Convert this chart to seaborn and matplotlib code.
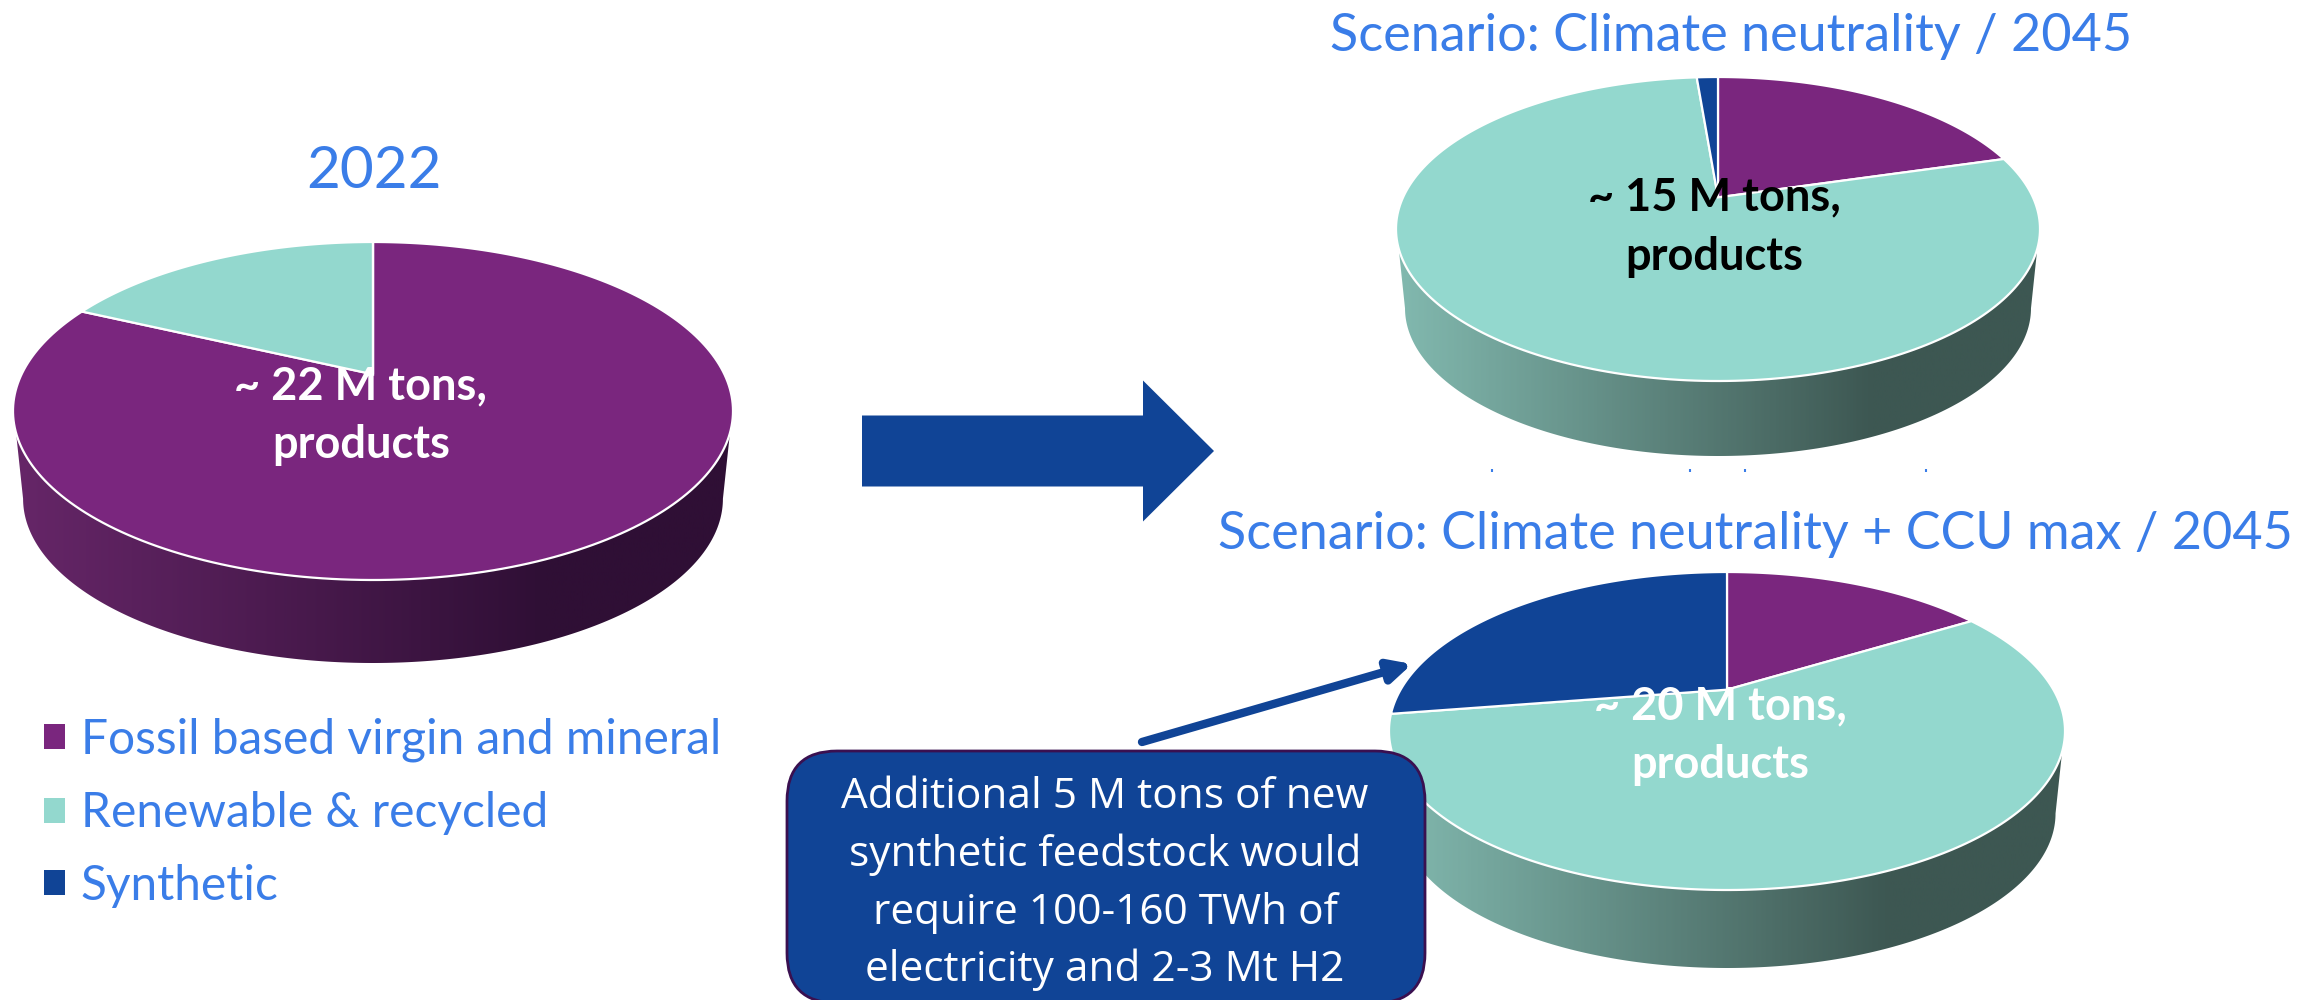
"""
plot.py - Feedstock split of products, 2022 vs two 2045 scenarios, as tilted 3D pies.
"""

import numpy as np
import matplotlib
matplotlib.use("Agg")
import matplotlib.pyplot as plt
from matplotlib.patches import FancyArrow, FancyBboxPatch, Patch, Polygon
import seaborn as sns

# ---- data ----
series_names = ["Fossil based virgin and mineral", "Renewable & recycled", "Synthetic"]
share_2022 = [82.0, 18.0, 0.0]
share_neutral = [20.5, 78.2, 1.3]
share_ccu = [16.2, 56.3, 27.5]

title_2022 = "2022"
title_neutral = "Scenario: Climate neutrality / 2045"
title_ccu = "Scenario: Climate neutrality + CCU max / 2045"

label_2022 = "~ 22 M tons,\nproducts"
label_neutral = "~ 15 M tons,\nproducts"
label_ccu = "~ 20 M tons,\nproducts"

callout_lines = [
    "Additional 5 M tons of new",
    "synthetic feedstock would",
    "require 100-160 TWh of",
    "electricity and 2-3 Mt H2",
]

# ---- style ----
W, H = 2299, 1000
PURPLE, TEAL, BLUE = "#7A267E", "#93D8CE", "#104496"
TITLE_BLUE = "#3A7DE8"
palette = sns.color_palette([PURPLE, TEAL, BLUE])

rim_purple = ["#662668", "#2F0F35", "#2F0F35"]
rim_teal = ["#82B9AF", "#3D5752", "#3D5752"]


def warp(x, y, tilt):
    """Projective map of the unit disc onto itself, moves the apex up by tilt."""
    den = 1 + tilt * y
    return x * np.sqrt(1 - tilt ** 2) / den, (y + tilt) / den


def draw_pie(values, cx, cy, rx, ry, depth, tilt, rim_colors):
    # axes box in pixels, one unit = rx / ry
    d = depth / ry
    ax = fig.add_axes([(cx - rx) / W, 1 - (cy + ry + depth) / H, 2 * rx / W, (2 * ry + depth) / H])
    wedges, _ = ax.pie(values, colors=palette, startangle=90, counterclock=False, radius=1)
    ax.set_aspect("auto")

    # side wall, horizontal shading clipped to the rim shape
    shade = sns.blend_palette(rim_colors, n_colors=256, as_cmap=True)
    grad = np.clip(np.linspace(0, 1, 256) / 0.74, 0, 1) * 0.5
    img = ax.imshow(grad[None, :], extent=[-1, 1, -1 - d, 1], aspect="auto",
                    cmap=shade, vmin=0, vmax=1, zorder=1)
    t = np.radians(np.linspace(180, 360, 200))
    scale, start = 0.972, -0.13
    low_y = -1 - d + scale
    rim_x = np.r_[-np.sqrt(1 - start ** 2), scale * np.cos(t), np.sqrt(1 - start ** 2)]
    rim_y = np.r_[start, low_y + scale * np.sin(t), start]
    rim = Polygon(np.c_[rim_x, rim_y], closed=True, transform=ax.transData, fc="none", ec="none")
    ax.add_patch(rim)
    img.set_clip_path(rim)

    # top face, pie wedges bent by the perspective
    for w in wedges:
        face = w.get_facecolor()
        a = np.radians(np.linspace(w.theta1, w.theta2, 240))
        px = np.r_[0, w.r * np.cos(a)]
        py = np.r_[0, w.r * np.sin(a)]
        px, py = warp(px, py, tilt)
        ax.add_patch(Polygon(np.c_[px, py], closed=True, fc=face, ec="white", lw=1.6,
                             zorder=3, clip_on=False))
        w.remove()

    ax.set_xlim(-1, 1)
    ax.set_ylim(-1 - d, 1)
    ax.set_axis_off()
    return ax


sns.set_theme(style="white")
plt.rcParams["font.family"] = ["Lato", "DejaVu Sans"]

fig = plt.figure(figsize=(W / 100, H / 100), dpi=100, facecolor="white")

draw_pie(share_2022, 373, 411, 360, 169, 83, 0.217, rim_purple)
draw_pie(share_neutral, 1718, 229, 322, 152, 75, 0.208, rim_teal)
draw_pie(share_ccu, 1727, 731, 338, 159, 78, 0.26, rim_teal)

# overlay in pixel coords for texts and shapes
ov = fig.add_axes([0, 0, 1, 1], facecolor="none")
ov.set_xlim(0, W)
ov.set_ylim(H, 0)
ov.set_axis_off()

ov.text(374, 172, title_2022, color=TITLE_BLUE, fontsize=42, ha="center", va="center")
ov.text(1731, 36, title_neutral, color=TITLE_BLUE, fontsize=37.5, ha="center", va="center")
ov.text(1755, 535, title_ccu, color=TITLE_BLUE, fontsize=37.5, ha="center", va="center")

for txt, x, y, col in [(label_2022, 361, 416, "white"),
                       (label_neutral, 1714, 227, "black"),
                       (label_ccu, 1720, 736, "white")]:
    ov.text(x, y, txt, color=col, fontsize=32.5, fontweight="bold", ha="center", va="center",
            linespacing=1.5)

# big arrow between 2022 and 2045
ov.add_patch(FancyArrow(862, 451, 352, 0, width=71, head_width=141, head_length=71,
                        length_includes_head=True, fc=BLUE, ec="none"))

# thin arrow pointing at the synthetic wedge
ov.annotate("", xy=(1412, 664), xytext=(1142, 742),
            arrowprops=dict(arrowstyle="-|>,head_length=1.1,head_width=0.55", color=BLUE, lw=6,
                            shrinkA=0, shrinkB=0))

# callout box, its bottom corners just touch the lower edge
ov.add_patch(FancyBboxPatch((787, 751), 638, 252, boxstyle="round,pad=0,rounding_size=50",
                            fc=BLUE, ec="#3A1050", lw=2, zorder=3))
for line, y in zip(callout_lines, [797, 855, 913, 970]):
    ov.text(1105, y, line, color="white", fontsize=30.5, ha="center", va="center",
            family=["Open Sans", "DejaVu Sans"], zorder=4)

# tiny leftovers under the upper pie
ov.vlines([1492, 1690, 1745, 1926], 469, 472, color=TITLE_BLUE, lw=1.5)

handles = [Patch(fc=c, ec="none") for c in palette]
fig.legend(handles, series_names, loc="upper left", bbox_to_anchor=(44 / W, 1 - 718 / H),
           frameon=False, fontsize=34.5, labelcolor=TITLE_BLUE, handlelength=0.43, handleheight=0.43,
           handletextpad=0.34, labelspacing=0.6, borderpad=0, borderaxespad=0)

fig.savefig("out.png", dpi=100)
plt.close(fig)
